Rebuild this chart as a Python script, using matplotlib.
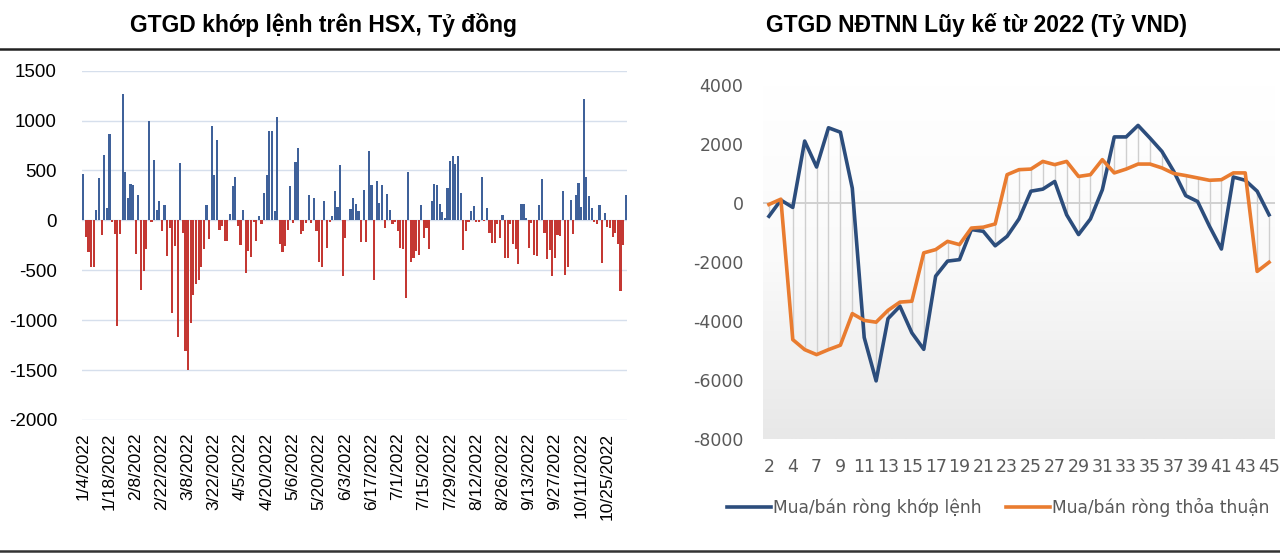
import matplotlib.pyplot as plt
import numpy as np
from matplotlib.colors import LinearSegmentedColormap

plt.rcParams['axes.unicode_minus'] = False

# left chart: daily net buy/sell on HSX (matched orders), bn VND
daily_net = [
    463, -170, -320, -470, -470, 100, 420, -145, 660, 120, 870, -20, -140, -1060, -140,
    1270, 480, 220, 360, 350, -340, 250, -700, -510, -290, 1000, -20, 610, 100, 190,
    -110, 150, -360, -80, -930,
    -260, -1170, 580, -130, -1310, -1500, -1030, -750, -640, -600, -470, -290, 150, -190,
    950, 450, 810, -100, -60, -210, -210, 60, 340, 430, -60, -250, 100, -530, -310, -370,
    -20, -210, 40, -40,
    270, 450, 900, 900, 90, 1040, -240, -320, -260, -100, 340, -30, 590, 730, -140, -110,
    -30, 250, -30, 220, -110, -420, -470, 190, -280, -20, 40, 290, 130, 560, -560, -180,
    0, 110, 220,
    160, 90, -220, 300, -220, 700, 350, -600, 390, 170, 350, -80, 260, 100, -40, -20,
    -110, -280, -290, -780, 480, -420, -380, -310, -350, 150, -180, -80, -290, 190, 360,
    350, 160, 80,
    20, 320, 600, 650, 570, 650, 270, -300, -110, -20, 90, 140, -20, -20, 430, -10, 120,
    -130, -230, -230, -40, -180, 50, -380, -380, -40, -240, -290, -440, 160, 160, 20,
    -280, -30,
    -350, -360, 150, 410, -130, -390, -300, -560, -380, -150, -160, 290, -550, -470, 200,
    -140, 250, 370, 130, 1220, 430, 240, 120, -20, -40, 157, -430, 70, -70, -80, -170,
    -130, -240, -710, -250, 250,
]
date_labels = [
    '1/4/2022', '1/18/2022', '2/8/2022', '2/22/2022', '3/8/2022', '3/22/2022', '4/5/2022',
    '4/20/2022', '5/6/2022', '5/20/2022', '6/3/2022', '6/17/2022', '7/1/2022', '7/15/2022',
    '7/29/2022', '8/12/2022', '8/26/2022', '9/13/2022', '9/27/2022', '10/11/2022', '10/25/2022',
]

# right chart: cumulative foreign net value since 2022 by week, bn VND
weeks = [2, 3, 4, 6, 7, 8, 9, 10, 11, 12, 13, 14, 15, 16, 17, 18, 19, 20, 21, 22, 23, 24,
         25, 26, 27, 28, 29, 30, 31, 32, 33, 34, 35, 36, 37, 38, 39, 40, 41, 42, 43, 44, 45]
cum_matched = [-450, 100, -150, 2100, 1220, 2550, 2400, 500, -4560, -6030, -3920, -3500,
               -4400, -4960, -2480, -1970, -1920, -900, -960, -1450, -1130, -540, 400, 470,
               730, -400, -1070, -540, 450, 2240, 2240, 2630, 2200, 1750, 1070, 250, 50,
               -790, -1560, 880, 770, 400, -400]
cum_negotiated = [-50, 130, -4630, -4970, -5140, -4970, -4820, -3750, -3980, -4040, -3640,
                  -3360, -3330, -1690, -1580, -1300, -1410, -850, -820, -710, 960, 1130,
                  1150, 1410, 1300, 1410, 900, 960, 1470, 1020, 1150, 1320, 1320, 1190, 1000,
                  930, 850, 770, 790, 1020, 1020, -2320, -2010]

W, H = 1280, 554
fig = plt.figure(figsize=(12.8, 5.54), dpi=100)

# ---- left: bars
ax1 = fig.add_axes([82 / W, 1 - 420 / H, 545 / W, 349.3 / H])
vals = np.array(daily_net)
idx = np.arange(len(vals))
cols = np.where(vals >= 0, '#3F619A', '#C43833')
ax1.bar(idx, vals, width=0.82, color=cols, zorder=2)
ax1.set_xlim(-0.5, len(vals) - 0.5)
ax1.set_ylim(-2000, 1500)
ax1.set_yticks(np.arange(-2000, 1501, 500))
ax1.yaxis.grid(True, color='#D6DFEC', lw=1)
ax1.set_axisbelow(True)
for s in ax1.spines.values():
    s.set_visible(False)
ax1.set_xticks(np.arange(0, 10 * len(date_labels), 10))
ax1.set_xticklabels(date_labels, rotation=90, fontsize=12.5, family='Liberation Sans')
ax1.tick_params(length=0, pad=9)
ax1.tick_params(axis='y', labelsize=13.5, pad=18)
for t in ax1.get_yticklabels():
    t.set_family('Liberation Sans')

# ---- right: lines
ax2 = fig.add_axes([763 / W, 1 - 439 / H, 512 / W, 354 / H])
n = len(weeks)
x = np.arange(n)
grad = np.linspace(0, 1, 256).reshape(-1, 1)
cmap = LinearSegmentedColormap.from_list('bg', ['#FFFFFF', '#FAFAFA', '#E8E8E8'])
ax2.imshow(grad, cmap=cmap, extent=[-0.5, n - 0.5, -8000, 4000], aspect='auto', zorder=0)
ax2.axhline(0, color='#C9C9C9', lw=1.2, zorder=1)
a = np.array(cum_matched)
b = np.array(cum_negotiated)
ax2.vlines(x, np.minimum(a, b), np.maximum(a, b), color='#CFCFCF', lw=1, zorder=1)
ax2.plot(x, a, color='#2C4D7C', lw=2.6, label='Mua/bán ròng khớp lệnh', zorder=3)
ax2.plot(x, b, color='#E97C30', lw=2.6, label='Mua/bán ròng thỏa thuận', zorder=3)
ax2.set_xlim(-0.5, n - 0.5)
ax2.set_ylim(-8000, 4000)
ax2.set_yticks(np.arange(-8000, 4001, 2000))
ax2.set_xticks(x[::2])
ax2.set_xticklabels([str(w) for w in weeks[::2]])
for s in ax2.spines.values():
    s.set_visible(False)
ax2.tick_params(length=0, labelsize=12.5, labelcolor='#595959')
ax2.tick_params(axis='y', pad=14)
ax2.tick_params(axis='x', pad=14)
leg = ax2.legend(loc='center', bbox_to_anchor=(998 / W, 1 - 507 / H),
                 bbox_transform=fig.transFigure, ncol=2, frameon=False,
                 fontsize=12.3, handlelength=2.6, handletextpad=0.1, columnspacing=1.4)
for t in leg.get_texts():
    t.set_color('#595959')

# ---- titles and rules
fig.text(323 / W, 1 - 25 / H, 'GTGD khớp lệnh trên HSX, Tỷ đồng', ha='center', va='center',
         fontsize=16.5, fontweight='bold', family='Liberation Sans')
fig.text(976 / W, 1 - 25 / H, 'GTGD NĐTNN Lũy kế từ 2022 (Tỷ VND)', ha='center', va='center',
         fontsize=16.5, fontweight='bold', family='Liberation Sans')
fig.add_artist(plt.Line2D([0, 1], [1 - 49 / H, 1 - 49 / H], color='#222222', lw=1.8))
fig.add_artist(plt.Line2D([0, 1], [1 - 551 / H, 1 - 551 / H], color='#333333', lw=1.8))

fig.savefig('out.png', dpi=100)
